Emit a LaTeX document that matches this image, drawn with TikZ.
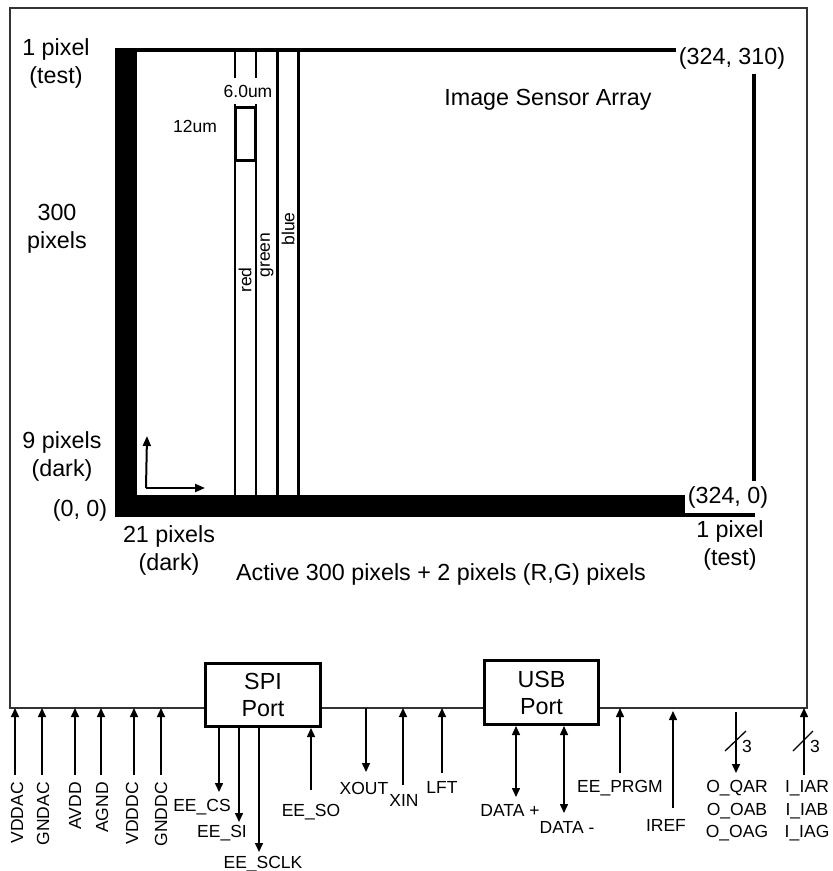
\documentclass[tikz,border=0pt]{standalone}
\usepackage{fontspec}
\setmainfont{Liberation Sans}
\usetikzlibrary{arrows.meta}
\begin{document}
\begin{tikzpicture}[x=1pt,y=-1pt,
  big/.style={font=\fontsize{23.3}{28}\selectfont, align=center, inner sep=0pt},
  small/.style={font=\fontsize{17.5}{22.5}\selectfont, align=center, inner sep=0pt},
  pin/.style={line width=1.5pt, -{Triangle[length=9pt,width=8pt]}},
  bipin/.style={line width=1.5pt, {Triangle[length=9pt,width=8pt]}-{Triangle[length=9pt,width=8pt]}},
  port/.style={draw, line width=3pt, fill=white, align=center, inner sep=0pt, font=\fontsize{23.3}{27}\selectfont},
  thincol/.style={line width=2pt},
  thickcol/.style={line width=3pt},
  axis/.style={line width=2pt, -{Triangle[length=10pt,width=8pt]}},
  slash/.style={line width=1.3pt}
]
\useasboundingbox (0,0) rectangle (833,871);
\fill[white] (0,0) rectangle (833,871);

% outer frame
\node[draw=black!80, line width=2.5pt, outer sep=0pt, inner sep=0pt,
      minimum width=797pt, minimum height=700pt, anchor=north west] (frame) at (10,8) {};

% sensor array black shapes
\fill (115,48) rectangle (137,517);
\fill (115,495) rectangle (685,517);
\fill (685,513) rectangle (755,517);
\fill (115,48) rectangle (676,52);
\fill (752,74) rectangle (756,481);

% colour columns
\draw[thincol] (235,52) -- (235,495);
\draw[thincol] (256,52) -- (256,495);
\node[fill=white, inner sep=0pt, minimum width=56pt, minimum height=26pt] (umbox) at (248,91) {};
\node[small] (um6) at (248,91) {6.0um};
\draw[thickcol] (277,52) -- (277,495);
\draw[thickcol] (298,52) -- (298,495);
\draw[line width=3pt] (235,107) rectangle (255,160);
\node[small] (um12) at (195,126) {12um};

\node[small, rotate=90] (red) at (245,280) {red};
\node[small, rotate=90] (green) at (267,255) {green};
\node[small, rotate=90] (blue) at (288,229) {blue};

% axes
\coordinate (org) at (147,488);
\coordinate (yax) at (147,436);
\coordinate (xax) at (205,488);
\draw[axis] ([xshift=-1pt]org) -- (yax);
\draw[axis] ([xshift=-1pt]org) -- (xax);

% labels around array
\node[big] (ltest) at (56,63) {1 pixel\\(test)};
\node[big] (l300) at (57,229) {300\\pixels};
\node[big] (ldark) at (62,456) {9 pixels\\(dark)};
\node[big] (l00) at (80,510) {(0, 0)};
\node[big] (l21) at (169,550) {21 pixels\\(dark)};
\node[big] (ltr) at (732,58) {(324, 310)};
\node[big] (lbr) at (728,497) {(324, 0)};
\node[big] (rtest) at (730,545) {1 pixel\\(test)};
\node[big] (title) at (548,100) {Image Sensor Array};
\node[big] (active) at (441,574) {Active 300 pixels + 2 pixels (R,G) pixels};

% ports
\node[port, minimum width=115pt, minimum height=63pt] (spi) at (263,695) {SPI\\Port};
\node[port, minimum width=114pt, minimum height=64pt] (usb) at (541.5,692.5) {USB\\Port};

% power pins
\foreach \n/\x/\lx in {VDDAC/15/17, GNDAC/42/43, AVDD/75/75, AGND/101/102, VDDDC/134/132, GNDDC/161/161}{
  \coordinate (p\n) at (\x,775);
  \draw[pin] (p\n) -- (p\n |- frame.south);
  \node[small, rotate=90, anchor=east] (l\n) at (\lx,782) {\n};
}

% SPI pins
\coordinate (pcs) at (219,792);
\draw[pin] (pcs |- spi.south) -- (pcs);
\node[small] (lcs) at (202,807) {EE\_CS};
\coordinate (psi) at (239,822);
\draw[pin] (psi |- spi.south) -- (psi);
\node[small] (lsi) at (222,833) {EE\_SI};
\coordinate (psclk) at (259,852);
\draw[pin] (psclk |- spi.south) -- (psclk);
\node[small] (lsclk) at (263,864) {EE\_SCLK};
\coordinate (pso) at (311,790);
\draw[pin] (pso) -- (pso |- spi.south);
\node[small] (lso) at (311,812) {EE\_SO};

% clock pins
\coordinate (pxout) at (366,772);
\draw[pin] (pxout |- frame.south) -- (pxout);
\node[small] (lxout) at (364,788) {XOUT};
\coordinate (pxin) at (403,785);
\draw[pin] (pxin) -- (pxin |- frame.south);
\node[small] (lxin) at (404,800) {XIN};
\coordinate (plft) at (442,773);
\draw[pin] (plft) -- (plft |- frame.south);
\node[small] (llft) at (442,787) {LFT};

% USB pins
\coordinate (pdp) at (516,797);
\draw[bipin] (pdp |- usb.south) -- (pdp);
\node[small] (ldp) at (510,810) {DATA +};
\coordinate (pdm) at (564,813);
\draw[bipin] (pdm |- usb.south) -- (pdm);
\node[small] (ldm) at (567,827) {DATA -};

% other pins
\coordinate (pprgm) at (620,773);
\draw[pin] (pprgm) -- (pprgm |- frame.south);
\node[small] (lprgm) at (620,788) {EE\_PRGM};
\coordinate (piref) at (673,808);
\coordinate (tiref) at (673,711);
\draw[pin] (piref) -- (tiref);
\node[small] (liref) at (666,825) {IREF};

% bus pins
\coordinate (pq) at (736,773);
\coordinate (tq) at (736,712);
\draw[pin] (tq) -- (pq);
\draw[slash] (725,751) -- (746,731);
\node[small] (nq) at (747,746) {3};
\node[small] (lq) at (737,811) {O\_QAR\\O\_OAB\\O\_OAG};
\coordinate (pi) at (804,775);
\draw[pin] (pi) -- (pi |- frame.south);
\draw[slash] (793,751) -- (813,731);
\node[small] (ni) at (815,746) {3};
\node[small] (li) at (807,811) {I\_IAR\\I\_IAB\\I\_IAG};
\end{tikzpicture}
\end{document}
